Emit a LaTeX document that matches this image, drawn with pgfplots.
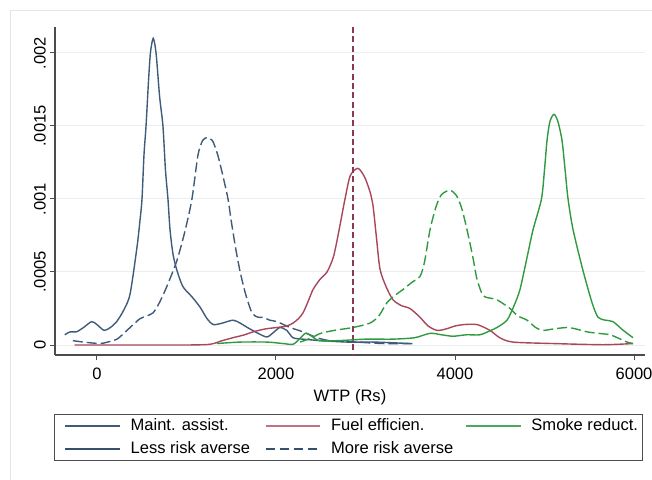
\documentclass[border=0pt]{standalone}
\usepackage{fontspec}
\setmainfont{Liberation Sans}
\usepackage{pgfplots}
\pgfplotsset{compat=1.18}
\definecolor{cblue}{HTML}{3E5B7A}
\definecolor{cred}{HTML}{A9475A}
\definecolor{cgreen}{HTML}{2F9A3F}
\definecolor{cnavy}{HTML}{34506E}
\definecolor{cline}{HTML}{8A3A50}
\begin{document}
\begin{tikzpicture}[font=\fontsize{12.4}{14.9}\selectfont]
\useasboundingbox (0,0) rectangle (489pt,359.25pt);
\draw[black!10, line width=0.75pt] (7.5pt,-2pt) rectangle (492pt,351pt);
\begin{axis}[
  at={(41.25pt,93pt)}, anchor=south west,
  width=442.5pt, height=246pt, scale only axis,
  xmin=-469, xmax=6123, ymin=-0.0000685, ymax=0.002178,
  axis x line*=bottom, axis y line*=left,
  axis line style={draw=black!70, line width=0.8pt},
  xtick={0,2000,4000,6000}, xticklabels={0,2000,4000,6000},
  ytick={0,0.0005,0.001,0.0015,0.002}, yticklabels={0,.0005,.001,.0015,.002},
  scaled y ticks=false, scaled x ticks=false,
  tick align=outside, major tick length=3.75pt,
  tick style={draw=black!70, line width=0.75pt},
  ymajorgrids, grid style={draw=black!7, line width=0.75pt},
  yticklabel style={rotate=90, anchor=south, inner sep=3pt},
  xticklabel style={inner sep=3pt, yshift=-3pt},
  xlabel={WTP (Rs)},
  xlabel style={at={(axis description cs:0.5,-0.128)}, anchor=center},
  legend columns=3,
  legend cell align=left,
  legend image code/.code={\draw[#1] (0pt,0pt) -- (41pt,0pt);},
  legend style={at={(axis description cs:0.4975,-0.181)}, anchor=north,
    draw=black!70, line width=0.75pt, inner xsep=7.5pt, inner ysep=2.6pt,
    row sep=5.25pt,
    nodes={inner xsep=0pt, inner ysep=0pt, text height=9pt, text depth=3pt},
    /tikz/every odd column/.append style={column sep=7.5pt},
    /tikz/every even column/.append style={column sep=7.5pt}},
  every axis plot/.append style={line width=1.05pt, smooth, tension=0.45},
]
\addlegendimage{cblue, line width=1.3pt}
\addlegendentry{\makebox[93pt][l]{Maint. assist.}}
\addlegendimage{cred!75, line width=1.3pt}
\addlegendentry{\makebox[93pt][l]{Fuel efficien.}}
\addlegendimage{cgreen!85, line width=1.3pt}
\addlegendentry{\makebox[76pt][l]{Smoke reduct.}}
\addlegendimage{cnavy, line width=1.3pt}
\addlegendentry{\makebox[93pt][l]{Less risk averse}}
\addlegendimage{cnavy, line width=1.3pt, dash pattern=on 7pt off 3.5pt}
\addlegendentry{\makebox[93pt][l]{More risk averse}}

% Maint. assist., less risk averse
\addplot[cblue, forget plot] coordinates {
(-360,0.00007) (-300,0.00009) (-230,0.00009) (-150,0.00012) (-60,0.00016) (0,0.00014)
(80,0.0001) (150,0.00012) (220,0.00016) (300,0.00024) (370,0.00035) (447,0.00067)
(480,0.00085) (503,0.001) (525,0.0013) (548,0.0015) (575,0.0018) (597,0.002) (628,0.0021)
(660,0.002) (700,0.0017) (737,0.0015) (765,0.0012) (793,0.001) (816,0.00079) (850,0.00062)
(894,0.00051) (960,0.0004) (1061,0.00033) (1151,0.00026) (1230,0.00018) (1300,0.00014)
(1400,0.00015) (1520,0.00017) (1600,0.00015) (1680,0.00012) (1800,0.00008) (1900,0.000055)
(1980,0.00009) (2045,0.00012) (2120,0.0001) (2190,0.00005) (2300,0.00004) (2500,0.00003)
(2800,0.00002) (3100,0.00002) (3500,0.00001)};
% Maint. assist., more risk averse
\addplot[cblue, forget plot, dash pattern=on 7.5pt off 3pt] coordinates {
(-270,0.00003) (-150,0.00002) (30,0.00001) (120,0.00002) (223,0.00004) (300,0.00008)
(370,0.00012) (480,0.00018) (560,0.0002) (626,0.00022) (680,0.00027) (737,0.00034)
(800,0.00043) (894,0.00058) (983,0.00078) (1061,0.001) (1128,0.0013) (1180,0.0014)
(1229,0.00142) (1290,0.0014) (1350,0.0013) (1410,0.00115) (1464,0.001) (1500,0.00085)
(1550,0.00066) (1600,0.0005) (1660,0.00035) (1732,0.00022) (1800,0.00019) (1855,0.00019)
(1930,0.00017) (2011,0.00016) (2157,0.00012) (2302,0.00009) (2458,0.00005) (2600,0.00003)
(2900,0.00002) (3200,0.00001) (3550,0.00001)};
% Fuel efficiency, less risk averse
\addplot[cred, forget plot] coordinates {
(-250,0) (500,0) (1000,0) (1263,0.000005) (1400,0.00003) (1520,0.00005) (1650,0.00007)
(1743,0.00009) (1880,0.00011) (2011,0.00012) (2120,0.00013) (2190,0.00015) (2250,0.00018)
(2302,0.00022) (2360,0.0003) (2414,0.00038) (2492,0.00045) (2570,0.0005) (2640,0.0006)
(2693,0.00075) (2771,0.001) (2830,0.00116) (2916,0.00121) (2990,0.00115) (3050,0.00105)
(3085,0.00095) (3120,0.00075) (3162,0.00052) (3230,0.0004) (3307,0.00031) (3400,0.00027)
(3497,0.00025) (3609,0.00019) (3700,0.00013) (3800,0.0001) (3900,0.00011) (4000,0.00013)
(4100,0.00014) (4246,0.00014) (4391,0.0001) (4500,0.00005) (4648,0.00002) (5095,0.00001)
(5654,0.000002) (5989,0.00001)};
% Fuel efficiency, more risk averse (spike)
\addplot[cline, forget plot, line width=0.9pt, sharp plot, dash pattern=on 4.5pt off 2.5pt] coordinates {
(2860,-0.0001) (2860,0.0025)};
% Smoke reduction, less risk averse
\addplot[cgreen, forget plot] coordinates {
(1340,0.00001) (1600,0.00002) (1900,0.00002) (2078,0.00001) (2190,0.000005) (2260,0.00004)
(2330,0.00008) (2400,0.00006) (2480,0.00003) (2700,0.00003) (3000,0.00004) (3300,0.00004)
(3550,0.00005) (3721,0.00008) (3850,0.00007) (3978,0.00006) (4130,0.00007) (4279,0.00007)
(4400,0.0001) (4469,0.00012) (4581,0.00017) (4660,0.00027) (4726,0.00038) (4805,0.0006)
(4872,0.00079) (4966,0.001) (5000,0.0012) (5028,0.0014) (5060,0.00153) (5106,0.00158)
(5150,0.00153) (5196,0.0014) (5230,0.0012) (5263,0.001) (5319,0.00079) (5430,0.00051)
(5531,0.00029) (5598,0.00019) (5680,0.00017) (5765,0.00016) (5880,0.0001) (5989,0.00005)};
% Smoke reduction, more risk averse
\addplot[cgreen, forget plot, dash pattern=on 7.5pt off 3pt] coordinates {
(2270,0.00002) (2400,0.00005) (2500,0.00008) (2650,0.0001) (2860,0.00012) (3050,0.00015)
(3150,0.0002) (3240,0.00029) (3330,0.00034) (3419,0.00038) (3520,0.00043) (3609,0.00047)
(3660,0.00057) (3721,0.00079) (3790,0.00095) (3850,0.00103) (3944,0.00106) (4020,0.00102)
(4078,0.00093) (4134,0.00079) (4200,0.0006) (4246,0.00045) (4313,0.00034) (4400,0.00032)
(4469,0.00031) (4615,0.00025) (4700,0.0002) (4805,0.00017) (4900,0.00012) (4983,0.0001)
(5100,0.00011) (5251,0.00012) (5350,0.00011) (5475,0.00009) (5600,0.00008) (5732,0.00007)
(5850,0.00004) (5922,0.00002) (5989,0.00001)};
\end{axis}
\end{tikzpicture}
\end{document}
